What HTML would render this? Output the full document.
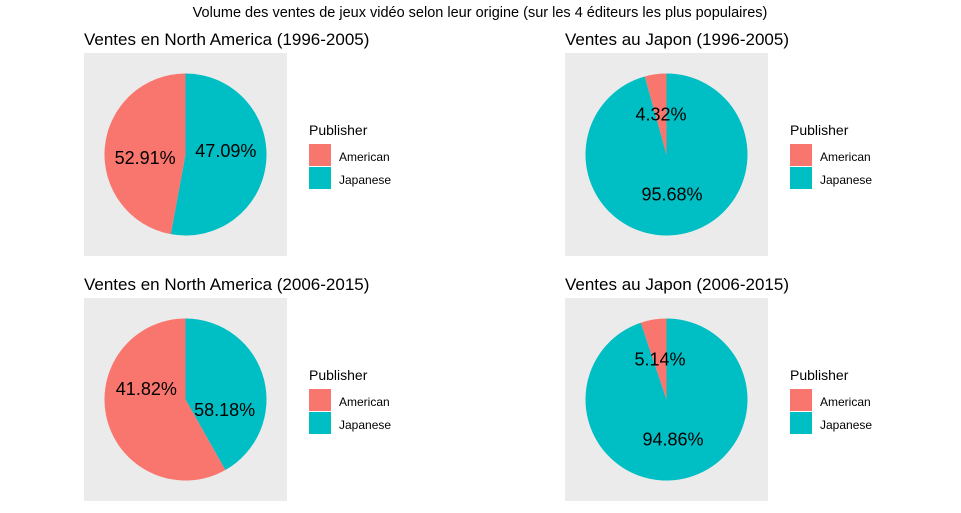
<!DOCTYPE html>
<html><head><meta charset="utf-8"><style>
body{margin:0;background:#fff;}
svg{display:block;font-family:"Liberation Sans",Arial,sans-serif;}
</style></head><body>
<svg id="chart" width="961" height="513" viewBox="0 0 961 513">
<text x="480" y="17" text-anchor="middle" font-size="14.5" fill="#000">Volume des ventes de jeux vidéo selon leur origine (sur les 4 éditeurs les plus populaires)</text>
</svg>
<script>
const panelTitles = ["Ventes en North America (1996-2005)","Ventes au Japon (1996-2005)","Ventes en North America (2006-2015)","Ventes au Japon (2006-2015)"];
const categories = ["Japanese","American"];
const japaneseShare = [47.09, 95.68, 58.18, 94.86];
const americanShare = [52.91, 4.32, 41.82, 5.14];
const sliceJapanese = [52.91, 95.68, 41.82, 94.86];
const sliceAmerican = [47.09, 4.32, 58.18, 5.14];
const colors = {Japanese:"#00BFC4", American:"#F8766D"};
const svg = document.getElementById('chart');
const NS = "http://www.w3.org/2000/svg";
function mk(tag, attrs, parent){const e=document.createElementNS(NS,tag);for(const k in attrs)e.setAttribute(k,attrs[k]);(parent||svg).appendChild(e);return e;}
const origins = [[84,53],[565,53],[84,298],[565,298]];
const PW=203, R=81;
function pt(cx,cy,r,frac){const a=frac*2*Math.PI;return [cx+r*Math.sin(a), cy-r*Math.cos(a)];}
for(let i=0;i<4;i++){
  const [px,py]=origins[i];
  const g=mk('g',{});
  
  
  const t=mk('text',{x:px,y:py-8,'font-size':17,fill:'#000'},g);
  t.textContent=panelTitles[i];
  
  
  const bg=mk('rect',{x:px,y:py,width:PW,height:PW,fill:'#EBEBEB'},g);
  
  
  const cx=px+PW/2, cy=py+PW/2;
  // slices
  const svals=[sliceJapanese[i], sliceAmerican[i]];
  const stot=svals[0]+svals[1];
  let start=0;
  svals.forEach((v,j)=>{
    const f=v/stot, end=start+f;
    const [x1,y1]=pt(cx,cy,R,start),[x2,y2]=pt(cx,cy,R,end);
    const large=f>0.5?1:0;
    const p=mk('path',{d:`M${cx},${cy} L${x1},${y1} A${R},${R} 0 ${large} 1 ${x2},${y2} Z`,fill:colors[categories[j]]},g);
    
    
    start=end;
  });
  // labels
  const vals=[japaneseShare[i], americanShare[i]];
  const tot=vals[0]+vals[1];
  start=0;
  vals.forEach((v,j)=>{
    const f=v/tot;
    const [lx,ly]=pt(cx,cy,R/2,start+f/2);
    const lt=mk('text',{x:lx,y:ly+6,'text-anchor':'middle','font-size':18,fill:'#000'},g);
    lt.textContent=v.toFixed(2)+'%';
    
    
    start+=f;
  });
  const lxo=px+225, lyo=py+77;
  const lg=mk('g',{},g);
  
  
  const lt=mk('text',{x:lxo,y:lyo+5,'font-size':14,fill:'#000'},lg);
  lt.textContent='Publisher';
  
  
  ['American','Japanese'].forEach((c,k)=>{
    const r=mk('rect',{x:lxo,y:lyo+14+k*23,width:22,height:22,fill:colors[c]},lg);
    
    
    const tx=mk('text',{x:lxo+30,y:lyo+31+k*23,'font-size':12,fill:'#000'},lg);
    tx.textContent=c;
    
    
  });
}
</script>
</body></html>
